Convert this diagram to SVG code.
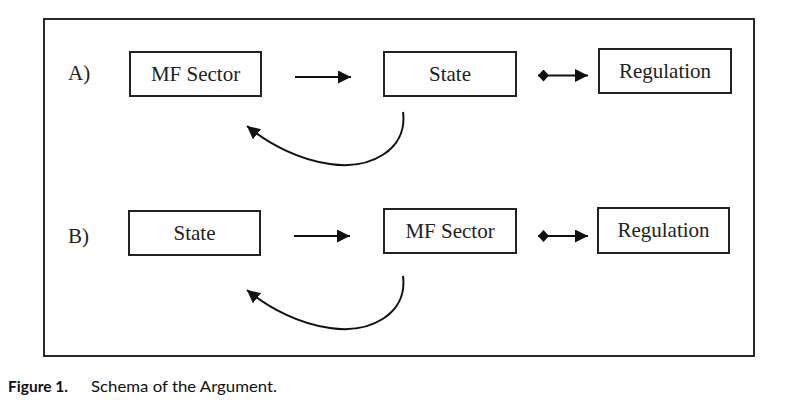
<svg xmlns="http://www.w3.org/2000/svg" width="786" height="416" viewBox="0 0 786 416">
<style>
.box{fill:#fff;stroke:#222;stroke-width:2}
.lbl{font-family:"Liberation Serif","Times New Roman",serif;font-size:21px;fill:#222;text-anchor:middle}
.tag{font-family:"Liberation Serif","Times New Roman",serif;font-size:21px;fill:#222}
.ln{fill:none;stroke:#111;stroke-width:2}
.cap{font-family:Lato,"Open Sans","Liberation Sans",sans-serif;font-size:16px;fill:#111}
</style>
<defs>
<marker id="ah" markerWidth="14" markerHeight="14" refX="13" refY="6.5" orient="auto" markerUnits="userSpaceOnUse">
<path d="M0,0 L13,6.5 L0,13 Z" fill="#111"/>
</marker>
<marker id="dia" markerWidth="13" markerHeight="13" refX="0" refY="6" orient="auto" markerUnits="userSpaceOnUse">
<path d="M0,6 L5.5,0 L11,6 L5.5,12 Z" fill="#111"/>
</marker>
</defs>
<rect width="786" height="416" fill="#fff"/>
<rect x="44" y="19" width="710" height="337" fill="none" stroke="#111" stroke-width="1.8"/>
<text class="tag" x="68" y="80">A)</text>
<text class="tag" x="68" y="243">B)</text>
<g id="a_mf"><rect class="box" x="130" y="52" width="131" height="44"/><text class="lbl" x="195.5" y="81">MF Sector</text></g>
<g id="a_state"><rect class="box" x="384" y="52" width="132" height="44"/><text class="lbl" x="450" y="81">State</text></g>
<g id="a_reg"><rect class="box" x="599" y="49" width="132" height="44"/><text class="lbl" x="665" y="78">Regulation</text></g>
<g id="b_state"><rect class="box" x="129" y="211" width="131" height="44"/><text class="lbl" x="194.5" y="240">State</text></g>
<g id="b_mf"><rect class="box" x="384" y="209" width="132" height="44"/><text class="lbl" x="450" y="238">MF Sector</text></g>
<g id="b_reg"><rect class="box" x="598" y="208" width="131" height="45"/><text class="lbl" x="663.5" y="237">Regulation</text></g>
<g id="connectors">
<path class="ln" d="M295,77 L351,77" marker-end="url(#ah)"/>
<path class="ln" d="M538,75.5 L588,75.5" marker-start="url(#dia)" marker-end="url(#ah)"/>
<path class="ln" d="M403,112 C408,150 370,170 330,164 C300,160 270,145 247,126" marker-end="url(#ah)"/>
<path class="ln" d="M294,236 L350,236" marker-end="url(#ah)"/>
<path class="ln" d="M538,236 L588,236" marker-start="url(#dia)" marker-end="url(#ah)"/>
<path class="ln" d="M403,276 C408,314 370,334 330,328 C300,324 270,309 247,290" marker-end="url(#ah)"/>
</g>
<text class="cap" x="8" y="392" font-weight="bold" textLength="60" lengthAdjust="spacingAndGlyphs">Figure 1.</text>
<text class="cap" x="91" y="392" textLength="186" lengthAdjust="spacingAndGlyphs">Schema of the Argument.</text>
</svg>
